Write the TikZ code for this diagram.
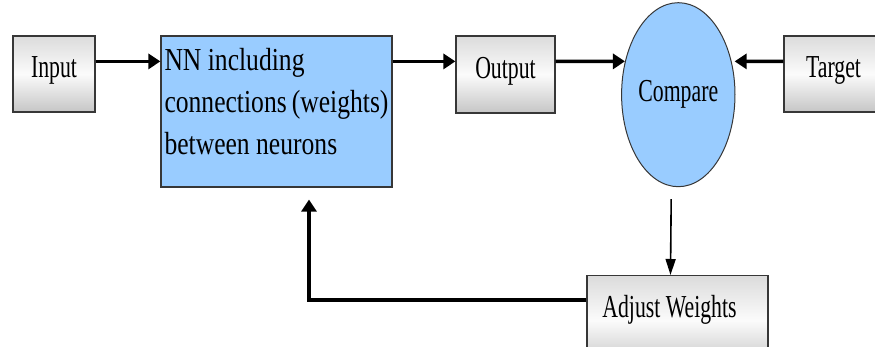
\documentclass[tikz,border=0pt]{standalone}
\usepackage{fontspec}
\setmainfont{Liberation Serif}
\newfontfamily\boxfont[FakeStretch=0.68]{Liberation Serif}
\newfontfamily\nnfont[FakeStretch=0.8]{Liberation Serif}
\usetikzlibrary{arrows.meta,shapes.geometric}
\definecolor{nnblue}{RGB}{153,204,255}
\definecolor{edgegray}{RGB}{55,55,55}
\begin{document}
\begin{tikzpicture}[x=0.5pt,y=0.5pt,
  graybox/.style={draw=edgegray,line width=0.6pt,top color=gray!28,bottom color=gray!45,middle color=gray!3,
    inner sep=0pt,text height=11pt,text depth=7pt,font=\boxfont\fontsize{16}{18}\selectfont},
  nnbox/.style={draw=edgegray,line width=0.6pt,fill=nnblue,inner xsep=1.75pt,inner ysep=0pt,
    minimum width=115.5pt,font=\nnfont\fontsize{16}{21}\selectfont},
  cmpnode/.style={ellipse,draw=edgegray,line width=0.5pt,fill=nnblue,inner sep=0pt,
    minimum width=56.7pt,minimum height=92pt,font=\boxfont\fontsize{16}{18}\selectfont},
  arr/.style={line width=1.8pt,-{Triangle[length=6pt,width=7.5pt]}},
  thinarr/.style={line width=0.8pt,-{Triangle[length=8pt,width=5pt]}}]
  \useasboundingbox (0,0) rectangle (875,347);
  \node[graybox,minimum width=41pt,minimum height=38pt] (in) at (54,273) {Input};
  \node[nnbox] (nn) at (276.5,235.5)
    {\parbox[c][75.5pt][t]{112pt}{\vspace*{6pt}NN including\\connections~(weights)\\between neurons}};
  \node[graybox,minimum width=49.5pt,minimum height=38.5pt] (out) at (505.5,272.5) {Output};
  \node[cmpnode] (cmp) at (678.3,252.3) {Compare};
  \node[graybox,minimum width=49.5pt,minimum height=38pt] (tgt) at (833.5,273) {Target};
  \node[graybox,anchor=north,minimum width=90.5pt,text height=21pt,text depth=24pt] (adj) at (677.5,72) {Adjust Weights\hspace*{8pt}};
  \draw[arr] ([yshift=-13pt]in.north east) -- ([yshift=-13pt]nn.north west);
  \draw[arr] ([yshift=-13pt]nn.north east) -- ([yshift=-13pt]out.north west);
  \draw[arr] ([yshift=-13pt]out.north east) -- (cmp.148);
  \draw[arr,shorten >=1.5pt] ([yshift=-13pt]tgt.north west) -- (cmp.32);
  \draw[thinarr,shorten <=6pt] ([xshift=-3.5pt]cmp.south) -- ([xshift=-3.5pt]adj.north);
  \draw[arr,shorten >=6pt] ([yshift=-12.5pt]adj.north west) -| ([xshift=16.25pt]nn.south);
\end{tikzpicture}
\end{document}
